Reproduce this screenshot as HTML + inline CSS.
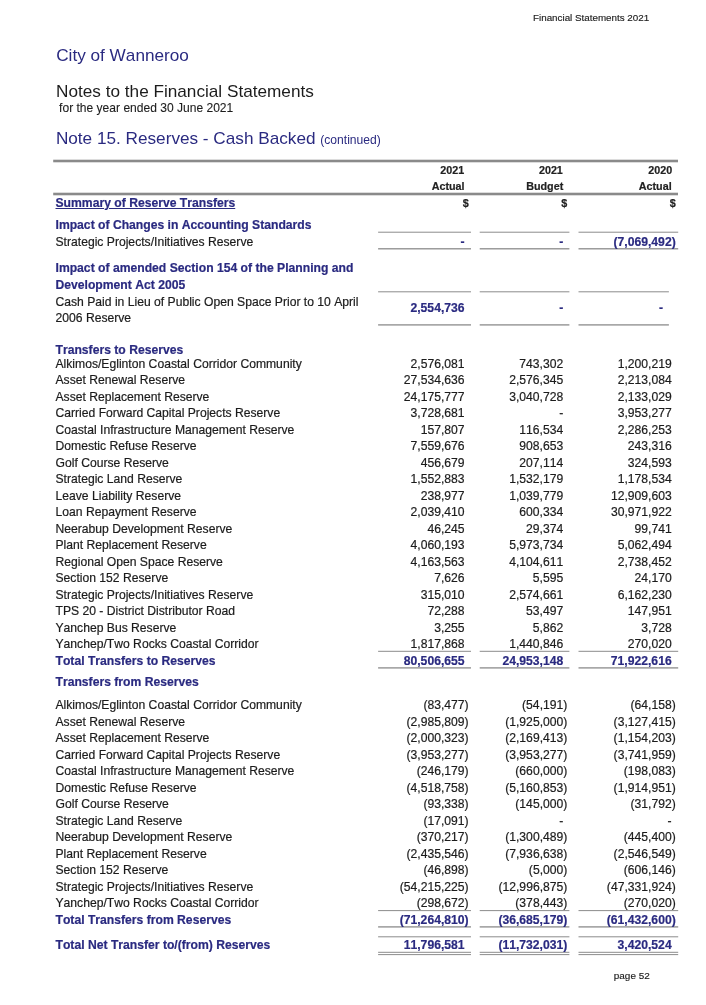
<!DOCTYPE html>
<html><head><meta charset="utf-8"><title>Financial Statements 2021</title>
<style>
html,body{margin:0;padding:0;background:#fff;}
body{width:706px;height:1005px;position:relative;overflow:hidden;font-family:"Liberation Sans",sans-serif;}
.t{position:absolute;white-space:nowrap;font-kerning:none;font-feature-settings:"kern" 0,"liga" 0;margin:0;padding:0;-webkit-text-stroke:0.2px currentColor;}
.l{position:absolute;}
#w{position:absolute;left:0;top:0;width:706px;height:1005px;will-change:transform;}
</style></head><body>
<svg class="l" style="left:0;top:0" width="706" height="1005" viewBox="0 0 706 1005">
<rect x="53.20" y="159.70" width="624.80" height="2.6" fill="#8a8a8a"/>
<rect x="53.20" y="192.70" width="624.80" height="2.6" fill="#8a8a8a"/>
<rect x="378.10" y="231.70" width="92.90" height="1.0" fill="#8c8c8c"/>
<rect x="378.10" y="248.15" width="92.90" height="1.3" fill="#8c8c8c"/>
<rect x="479.70" y="231.70" width="89.70" height="1.0" fill="#8c8c8c"/>
<rect x="479.70" y="248.15" width="89.70" height="1.3" fill="#8c8c8c"/>
<rect x="578.50" y="231.70" width="99.70" height="1.0" fill="#8c8c8c"/>
<rect x="578.50" y="248.15" width="99.70" height="1.3" fill="#8c8c8c"/>
<rect x="378.10" y="291.30" width="92.90" height="1.0" fill="#8c8c8c"/>
<rect x="378.10" y="324.25" width="92.90" height="1.3" fill="#8c8c8c"/>
<rect x="479.70" y="291.30" width="89.70" height="1.0" fill="#8c8c8c"/>
<rect x="479.70" y="324.25" width="89.70" height="1.3" fill="#8c8c8c"/>
<rect x="578.50" y="291.30" width="90.40" height="1.0" fill="#8c8c8c"/>
<rect x="578.50" y="324.25" width="90.40" height="1.3" fill="#8c8c8c"/>
<rect x="378.10" y="650.80" width="92.90" height="1.0" fill="#8c8c8c"/>
<rect x="378.10" y="667.25" width="92.90" height="1.3" fill="#8c8c8c"/>
<rect x="479.70" y="650.80" width="89.70" height="1.0" fill="#8c8c8c"/>
<rect x="479.70" y="667.25" width="89.70" height="1.3" fill="#8c8c8c"/>
<rect x="578.50" y="650.80" width="99.70" height="1.0" fill="#8c8c8c"/>
<rect x="578.50" y="667.25" width="99.70" height="1.3" fill="#8c8c8c"/>
<rect x="378.10" y="910.10" width="92.90" height="1.0" fill="#8c8c8c"/>
<rect x="378.10" y="926.25" width="92.90" height="1.3" fill="#8c8c8c"/>
<rect x="479.70" y="910.10" width="89.70" height="1.0" fill="#8c8c8c"/>
<rect x="479.70" y="926.25" width="89.70" height="1.3" fill="#8c8c8c"/>
<rect x="578.50" y="910.10" width="99.70" height="1.0" fill="#8c8c8c"/>
<rect x="578.50" y="926.25" width="99.70" height="1.3" fill="#8c8c8c"/>
<rect x="378.10" y="936.30" width="92.90" height="1.0" fill="#8c8c8c"/>
<rect x="378.10" y="951.80" width="92.90" height="1.0" fill="#8c8c8c"/>
<rect x="378.10" y="954.10" width="92.90" height="1.0" fill="#8c8c8c"/>
<rect x="479.70" y="936.30" width="89.70" height="1.0" fill="#8c8c8c"/>
<rect x="479.70" y="951.80" width="89.70" height="1.0" fill="#8c8c8c"/>
<rect x="479.70" y="954.10" width="89.70" height="1.0" fill="#8c8c8c"/>
<rect x="578.50" y="936.30" width="99.70" height="1.0" fill="#8c8c8c"/>
<rect x="578.50" y="951.80" width="99.70" height="1.0" fill="#8c8c8c"/>
<rect x="578.50" y="954.10" width="99.70" height="1.0" fill="#8c8c8c"/>
</svg>
<div id="w">
<div class="t" id="t0" style="top:10px;font-size:9.82px;line-height:16px;color:#1c1c1c;left:533.00px;-webkit-text-stroke-width:0.15px;">Financial Statements 2021</div>
<div class="t" id="t1" style="top:47px;font-size:17.18px;line-height:16px;color:#2a2a80;left:56.20px;-webkit-text-stroke-width:0;">City of Wanneroo</div>
<div class="t" id="t2" style="top:83px;font-size:17.18px;line-height:16px;color:#1c1c1c;left:56.10px;-webkit-text-stroke-width:0;">Notes to the Financial Statements</div>
<div class="t" id="t3" style="top:100px;font-size:12.05px;line-height:16px;color:#1c1c1c;left:59.10px;-webkit-text-stroke-width:0.1px;">for the year ended 30 June 2021</div>
<div class="t" id="t4" style="top:130px;font-size:17.18px;line-height:16px;color:#2a2a80;left:55.90px;-webkit-text-stroke-width:0;">Note 15. Reserves - Cash Backed <span style="font-size:12.1px">(continued)</span></div>
<div class="t" id="t5" style="top:162px;font-size:10.75px;line-height:16px;color:#222;font-weight:bold;right:241.85px;">2021</div>
<div class="t" id="t6" style="top:178px;font-size:10.75px;line-height:16px;color:#222;font-weight:bold;right:241.45px;">Actual</div>
<div class="t" id="t7" style="top:195px;font-size:10.75px;line-height:16px;color:#222;font-weight:bold;right:237.40px;">$</div>
<div class="t" id="t8" style="top:162px;font-size:10.75px;line-height:16px;color:#222;font-weight:bold;right:143.15px;">2021</div>
<div class="t" id="t9" style="top:178px;font-size:10.75px;line-height:16px;color:#222;font-weight:bold;right:142.75px;">Budget</div>
<div class="t" id="t10" style="top:195px;font-size:10.75px;line-height:16px;color:#222;font-weight:bold;right:138.70px;">$</div>
<div class="t" id="t11" style="top:162px;font-size:10.75px;line-height:16px;color:#222;font-weight:bold;right:33.85px;">2020</div>
<div class="t" id="t12" style="top:178px;font-size:10.75px;line-height:16px;color:#222;font-weight:bold;right:34.35px;">Actual</div>
<div class="t" id="t13" style="top:195px;font-size:10.75px;line-height:16px;color:#222;font-weight:bold;right:30.30px;">$</div>
<div class="t" id="t14" style="top:195px;font-size:12.17px;line-height:16px;color:#2a2a80;font-weight:bold;left:55.50px;text-decoration:underline;text-underline-offset:1.2px;text-decoration-thickness:1.1px;">Summary of Reserve Transfers</div>
<div class="t" id="t15" style="top:217px;font-size:12.17px;line-height:16px;color:#2a2a80;font-weight:bold;left:55.50px;">Impact of Changes in Accounting Standards</div>
<div class="t" id="t16" style="top:234px;font-size:12.15px;line-height:16px;color:#1c1c1c;left:55.50px;">Strategic Projects/Initiatives Reserve</div>
<div class="t" id="t17" style="top:234px;font-size:12.17px;line-height:16px;color:#2a2a80;font-weight:bold;right:241.45px;">-</div>
<div class="t" id="t18" style="top:234px;font-size:12.17px;line-height:16px;color:#2a2a80;font-weight:bold;right:142.75px;">-</div>
<div class="t" id="t19" style="top:234px;font-size:12.17px;line-height:16px;color:#2a2a80;font-weight:bold;right:30.30px;">(7,069,492)</div>
<div class="t" id="t20" style="top:260px;font-size:12.17px;line-height:16px;color:#2a2a80;font-weight:bold;left:55.50px;">Impact of amended Section 154 of the Planning and</div>
<div class="t" id="t21" style="top:277px;font-size:12.17px;line-height:16px;color:#2a2a80;font-weight:bold;left:55.50px;">Development Act 2005</div>
<div class="t" id="t22" style="top:294px;font-size:12.15px;line-height:16px;color:#1c1c1c;left:55.50px;">Cash Paid in Lieu of Public Open Space Prior to 10 April</div>
<div class="t" id="t23" style="top:310px;font-size:12.15px;line-height:16px;color:#1c1c1c;left:55.50px;">2006 Reserve</div>
<div class="t" id="t24" style="top:300px;font-size:12.17px;line-height:16px;color:#2a2a80;font-weight:bold;right:241.45px;">2,554,736</div>
<div class="t" id="t25" style="top:300px;font-size:12.17px;line-height:16px;color:#2a2a80;font-weight:bold;right:142.75px;">-</div>
<div class="t" id="t26" style="top:300px;font-size:12.17px;line-height:16px;color:#2a2a80;font-weight:bold;right:43.05px;">-</div>
<div class="t" id="t27" style="top:342px;font-size:12.17px;line-height:16px;color:#2a2a80;font-weight:bold;left:55.50px;">Transfers to Reserves</div>
<div class="t" id="t28" style="top:356px;font-size:12.15px;line-height:16px;color:#1c1c1c;left:55.50px;">Alkimos/Eglinton Coastal Corridor Community</div>
<div class="t" id="t29" style="top:356px;font-size:12.15px;line-height:16px;color:#1c1c1c;right:241.45px;">2,576,081</div>
<div class="t" id="t30" style="top:356px;font-size:12.15px;line-height:16px;color:#1c1c1c;right:142.75px;">743,302</div>
<div class="t" id="t31" style="top:356px;font-size:12.15px;line-height:16px;color:#1c1c1c;right:34.35px;">1,200,219</div>
<div class="t" id="t32" style="top:372px;font-size:12.15px;line-height:16px;color:#1c1c1c;left:55.50px;">Asset Renewal Reserve</div>
<div class="t" id="t33" style="top:372px;font-size:12.15px;line-height:16px;color:#1c1c1c;right:241.45px;">27,534,636</div>
<div class="t" id="t34" style="top:372px;font-size:12.15px;line-height:16px;color:#1c1c1c;right:142.75px;">2,576,345</div>
<div class="t" id="t35" style="top:372px;font-size:12.15px;line-height:16px;color:#1c1c1c;right:34.35px;">2,213,084</div>
<div class="t" id="t36" style="top:389px;font-size:12.15px;line-height:16px;color:#1c1c1c;left:55.50px;">Asset Replacement Reserve</div>
<div class="t" id="t37" style="top:389px;font-size:12.15px;line-height:16px;color:#1c1c1c;right:241.45px;">24,175,777</div>
<div class="t" id="t38" style="top:389px;font-size:12.15px;line-height:16px;color:#1c1c1c;right:142.75px;">3,040,728</div>
<div class="t" id="t39" style="top:389px;font-size:12.15px;line-height:16px;color:#1c1c1c;right:34.35px;">2,133,029</div>
<div class="t" id="t40" style="top:405px;font-size:12.15px;line-height:16px;color:#1c1c1c;left:55.50px;">Carried Forward Capital Projects Reserve</div>
<div class="t" id="t41" style="top:405px;font-size:12.15px;line-height:16px;color:#1c1c1c;right:241.45px;">3,728,681</div>
<div class="t" id="t42" style="top:405px;font-size:12.15px;line-height:16px;color:#1c1c1c;right:142.75px;">-</div>
<div class="t" id="t43" style="top:405px;font-size:12.15px;line-height:16px;color:#1c1c1c;right:34.35px;">3,953,277</div>
<div class="t" id="t44" style="top:422px;font-size:12.15px;line-height:16px;color:#1c1c1c;left:55.50px;">Coastal Infrastructure Management Reserve</div>
<div class="t" id="t45" style="top:422px;font-size:12.15px;line-height:16px;color:#1c1c1c;right:241.45px;">157,807</div>
<div class="t" id="t46" style="top:422px;font-size:12.15px;line-height:16px;color:#1c1c1c;right:142.75px;">116,534</div>
<div class="t" id="t47" style="top:422px;font-size:12.15px;line-height:16px;color:#1c1c1c;right:34.35px;">2,286,253</div>
<div class="t" id="t48" style="top:438px;font-size:12.15px;line-height:16px;color:#1c1c1c;left:55.50px;">Domestic Refuse Reserve</div>
<div class="t" id="t49" style="top:438px;font-size:12.15px;line-height:16px;color:#1c1c1c;right:241.45px;">7,559,676</div>
<div class="t" id="t50" style="top:438px;font-size:12.15px;line-height:16px;color:#1c1c1c;right:142.75px;">908,653</div>
<div class="t" id="t51" style="top:438px;font-size:12.15px;line-height:16px;color:#1c1c1c;right:34.35px;">243,316</div>
<div class="t" id="t52" style="top:455px;font-size:12.15px;line-height:16px;color:#1c1c1c;left:55.50px;">Golf Course Reserve</div>
<div class="t" id="t53" style="top:455px;font-size:12.15px;line-height:16px;color:#1c1c1c;right:241.45px;">456,679</div>
<div class="t" id="t54" style="top:455px;font-size:12.15px;line-height:16px;color:#1c1c1c;right:142.75px;">207,114</div>
<div class="t" id="t55" style="top:455px;font-size:12.15px;line-height:16px;color:#1c1c1c;right:34.35px;">324,593</div>
<div class="t" id="t56" style="top:471px;font-size:12.15px;line-height:16px;color:#1c1c1c;left:55.50px;">Strategic Land Reserve</div>
<div class="t" id="t57" style="top:471px;font-size:12.15px;line-height:16px;color:#1c1c1c;right:241.45px;">1,552,883</div>
<div class="t" id="t58" style="top:471px;font-size:12.15px;line-height:16px;color:#1c1c1c;right:142.75px;">1,532,179</div>
<div class="t" id="t59" style="top:471px;font-size:12.15px;line-height:16px;color:#1c1c1c;right:34.35px;">1,178,534</div>
<div class="t" id="t60" style="top:488px;font-size:12.15px;line-height:16px;color:#1c1c1c;left:55.50px;">Leave Liability Reserve</div>
<div class="t" id="t61" style="top:488px;font-size:12.15px;line-height:16px;color:#1c1c1c;right:241.45px;">238,977</div>
<div class="t" id="t62" style="top:488px;font-size:12.15px;line-height:16px;color:#1c1c1c;right:142.75px;">1,039,779</div>
<div class="t" id="t63" style="top:488px;font-size:12.15px;line-height:16px;color:#1c1c1c;right:34.35px;">12,909,603</div>
<div class="t" id="t64" style="top:504px;font-size:12.15px;line-height:16px;color:#1c1c1c;left:55.50px;">Loan Repayment Reserve</div>
<div class="t" id="t65" style="top:504px;font-size:12.15px;line-height:16px;color:#1c1c1c;right:241.45px;">2,039,410</div>
<div class="t" id="t66" style="top:504px;font-size:12.15px;line-height:16px;color:#1c1c1c;right:142.75px;">600,334</div>
<div class="t" id="t67" style="top:504px;font-size:12.15px;line-height:16px;color:#1c1c1c;right:34.35px;">30,971,922</div>
<div class="t" id="t68" style="top:521px;font-size:12.15px;line-height:16px;color:#1c1c1c;left:55.50px;">Neerabup Development Reserve</div>
<div class="t" id="t69" style="top:521px;font-size:12.15px;line-height:16px;color:#1c1c1c;right:241.45px;">46,245</div>
<div class="t" id="t70" style="top:521px;font-size:12.15px;line-height:16px;color:#1c1c1c;right:142.75px;">29,374</div>
<div class="t" id="t71" style="top:521px;font-size:12.15px;line-height:16px;color:#1c1c1c;right:34.35px;">99,741</div>
<div class="t" id="t72" style="top:537px;font-size:12.15px;line-height:16px;color:#1c1c1c;left:55.50px;">Plant Replacement Reserve</div>
<div class="t" id="t73" style="top:537px;font-size:12.15px;line-height:16px;color:#1c1c1c;right:241.45px;">4,060,193</div>
<div class="t" id="t74" style="top:537px;font-size:12.15px;line-height:16px;color:#1c1c1c;right:142.75px;">5,973,734</div>
<div class="t" id="t75" style="top:537px;font-size:12.15px;line-height:16px;color:#1c1c1c;right:34.35px;">5,062,494</div>
<div class="t" id="t76" style="top:554px;font-size:12.15px;line-height:16px;color:#1c1c1c;left:55.50px;">Regional Open Space Reserve</div>
<div class="t" id="t77" style="top:554px;font-size:12.15px;line-height:16px;color:#1c1c1c;right:241.45px;">4,163,563</div>
<div class="t" id="t78" style="top:554px;font-size:12.15px;line-height:16px;color:#1c1c1c;right:142.75px;">4,104,611</div>
<div class="t" id="t79" style="top:554px;font-size:12.15px;line-height:16px;color:#1c1c1c;right:34.35px;">2,738,452</div>
<div class="t" id="t80" style="top:570px;font-size:12.15px;line-height:16px;color:#1c1c1c;left:55.50px;">Section 152 Reserve</div>
<div class="t" id="t81" style="top:570px;font-size:12.15px;line-height:16px;color:#1c1c1c;right:241.45px;">7,626</div>
<div class="t" id="t82" style="top:570px;font-size:12.15px;line-height:16px;color:#1c1c1c;right:142.75px;">5,595</div>
<div class="t" id="t83" style="top:570px;font-size:12.15px;line-height:16px;color:#1c1c1c;right:34.35px;">24,170</div>
<div class="t" id="t84" style="top:587px;font-size:12.15px;line-height:16px;color:#1c1c1c;left:55.50px;">Strategic Projects/Initiatives Reserve</div>
<div class="t" id="t85" style="top:587px;font-size:12.15px;line-height:16px;color:#1c1c1c;right:241.45px;">315,010</div>
<div class="t" id="t86" style="top:587px;font-size:12.15px;line-height:16px;color:#1c1c1c;right:142.75px;">2,574,661</div>
<div class="t" id="t87" style="top:587px;font-size:12.15px;line-height:16px;color:#1c1c1c;right:34.35px;">6,162,230</div>
<div class="t" id="t88" style="top:603px;font-size:12.15px;line-height:16px;color:#1c1c1c;left:55.50px;">TPS 20 - District Distributor Road</div>
<div class="t" id="t89" style="top:603px;font-size:12.15px;line-height:16px;color:#1c1c1c;right:241.45px;">72,288</div>
<div class="t" id="t90" style="top:603px;font-size:12.15px;line-height:16px;color:#1c1c1c;right:142.75px;">53,497</div>
<div class="t" id="t91" style="top:603px;font-size:12.15px;line-height:16px;color:#1c1c1c;right:34.35px;">147,951</div>
<div class="t" id="t92" style="top:620px;font-size:12.15px;line-height:16px;color:#1c1c1c;left:55.50px;">Yanchep Bus Reserve</div>
<div class="t" id="t93" style="top:620px;font-size:12.15px;line-height:16px;color:#1c1c1c;right:241.45px;">3,255</div>
<div class="t" id="t94" style="top:620px;font-size:12.15px;line-height:16px;color:#1c1c1c;right:142.75px;">5,862</div>
<div class="t" id="t95" style="top:620px;font-size:12.15px;line-height:16px;color:#1c1c1c;right:34.35px;">3,728</div>
<div class="t" id="t96" style="top:636px;font-size:12.15px;line-height:16px;color:#1c1c1c;left:55.50px;">Yanchep/Two Rocks Coastal Corridor</div>
<div class="t" id="t97" style="top:636px;font-size:12.15px;line-height:16px;color:#1c1c1c;right:241.45px;">1,817,868</div>
<div class="t" id="t98" style="top:636px;font-size:12.15px;line-height:16px;color:#1c1c1c;right:142.75px;">1,440,846</div>
<div class="t" id="t99" style="top:636px;font-size:12.15px;line-height:16px;color:#1c1c1c;right:34.35px;">270,020</div>
<div class="t" id="t100" style="top:653px;font-size:12.17px;line-height:16px;color:#2a2a80;font-weight:bold;left:55.50px;">Total Transfers to Reserves</div>
<div class="t" id="t101" style="top:653px;font-size:12.17px;line-height:16px;color:#2a2a80;font-weight:bold;right:241.45px;">80,506,655</div>
<div class="t" id="t102" style="top:653px;font-size:12.17px;line-height:16px;color:#2a2a80;font-weight:bold;right:142.75px;">24,953,148</div>
<div class="t" id="t103" style="top:653px;font-size:12.17px;line-height:16px;color:#2a2a80;font-weight:bold;right:34.35px;">71,922,616</div>
<div class="t" id="t104" style="top:674px;font-size:12.17px;line-height:16px;color:#2a2a80;font-weight:bold;left:55.50px;">Transfers from Reserves</div>
<div class="t" id="t105" style="top:697px;font-size:12.15px;line-height:16px;color:#1c1c1c;left:55.50px;">Alkimos/Eglinton Coastal Corridor Community</div>
<div class="t" id="t106" style="top:697px;font-size:12.15px;line-height:16px;color:#1c1c1c;right:237.40px;">(83,477)</div>
<div class="t" id="t107" style="top:697px;font-size:12.15px;line-height:16px;color:#1c1c1c;right:138.70px;">(54,191)</div>
<div class="t" id="t108" style="top:697px;font-size:12.15px;line-height:16px;color:#1c1c1c;right:30.30px;">(64,158)</div>
<div class="t" id="t109" style="top:714px;font-size:12.15px;line-height:16px;color:#1c1c1c;left:55.50px;">Asset Renewal Reserve</div>
<div class="t" id="t110" style="top:714px;font-size:12.15px;line-height:16px;color:#1c1c1c;right:237.40px;">(2,985,809)</div>
<div class="t" id="t111" style="top:714px;font-size:12.15px;line-height:16px;color:#1c1c1c;right:138.70px;">(1,925,000)</div>
<div class="t" id="t112" style="top:714px;font-size:12.15px;line-height:16px;color:#1c1c1c;right:30.30px;">(3,127,415)</div>
<div class="t" id="t113" style="top:730px;font-size:12.15px;line-height:16px;color:#1c1c1c;left:55.50px;">Asset Replacement Reserve</div>
<div class="t" id="t114" style="top:730px;font-size:12.15px;line-height:16px;color:#1c1c1c;right:237.40px;">(2,000,323)</div>
<div class="t" id="t115" style="top:730px;font-size:12.15px;line-height:16px;color:#1c1c1c;right:138.70px;">(2,169,413)</div>
<div class="t" id="t116" style="top:730px;font-size:12.15px;line-height:16px;color:#1c1c1c;right:30.30px;">(1,154,203)</div>
<div class="t" id="t117" style="top:747px;font-size:12.15px;line-height:16px;color:#1c1c1c;left:55.50px;">Carried Forward Capital Projects Reserve</div>
<div class="t" id="t118" style="top:747px;font-size:12.15px;line-height:16px;color:#1c1c1c;right:237.40px;">(3,953,277)</div>
<div class="t" id="t119" style="top:747px;font-size:12.15px;line-height:16px;color:#1c1c1c;right:138.70px;">(3,953,277)</div>
<div class="t" id="t120" style="top:747px;font-size:12.15px;line-height:16px;color:#1c1c1c;right:30.30px;">(3,741,959)</div>
<div class="t" id="t121" style="top:763px;font-size:12.15px;line-height:16px;color:#1c1c1c;left:55.50px;">Coastal Infrastructure Management Reserve</div>
<div class="t" id="t122" style="top:763px;font-size:12.15px;line-height:16px;color:#1c1c1c;right:237.40px;">(246,179)</div>
<div class="t" id="t123" style="top:763px;font-size:12.15px;line-height:16px;color:#1c1c1c;right:138.70px;">(660,000)</div>
<div class="t" id="t124" style="top:763px;font-size:12.15px;line-height:16px;color:#1c1c1c;right:30.30px;">(198,083)</div>
<div class="t" id="t125" style="top:780px;font-size:12.15px;line-height:16px;color:#1c1c1c;left:55.50px;">Domestic Refuse Reserve</div>
<div class="t" id="t126" style="top:780px;font-size:12.15px;line-height:16px;color:#1c1c1c;right:237.40px;">(4,518,758)</div>
<div class="t" id="t127" style="top:780px;font-size:12.15px;line-height:16px;color:#1c1c1c;right:138.70px;">(5,160,853)</div>
<div class="t" id="t128" style="top:780px;font-size:12.15px;line-height:16px;color:#1c1c1c;right:30.30px;">(1,914,951)</div>
<div class="t" id="t129" style="top:796px;font-size:12.15px;line-height:16px;color:#1c1c1c;left:55.50px;">Golf Course Reserve</div>
<div class="t" id="t130" style="top:796px;font-size:12.15px;line-height:16px;color:#1c1c1c;right:237.40px;">(93,338)</div>
<div class="t" id="t131" style="top:796px;font-size:12.15px;line-height:16px;color:#1c1c1c;right:138.70px;">(145,000)</div>
<div class="t" id="t132" style="top:796px;font-size:12.15px;line-height:16px;color:#1c1c1c;right:30.30px;">(31,792)</div>
<div class="t" id="t133" style="top:813px;font-size:12.15px;line-height:16px;color:#1c1c1c;left:55.50px;">Strategic Land Reserve</div>
<div class="t" id="t134" style="top:813px;font-size:12.15px;line-height:16px;color:#1c1c1c;right:237.40px;">(17,091)</div>
<div class="t" id="t135" style="top:813px;font-size:12.15px;line-height:16px;color:#1c1c1c;right:142.75px;">-</div>
<div class="t" id="t136" style="top:813px;font-size:12.15px;line-height:16px;color:#1c1c1c;right:34.35px;">-</div>
<div class="t" id="t137" style="top:829px;font-size:12.15px;line-height:16px;color:#1c1c1c;left:55.50px;">Neerabup Development Reserve</div>
<div class="t" id="t138" style="top:829px;font-size:12.15px;line-height:16px;color:#1c1c1c;right:237.40px;">(370,217)</div>
<div class="t" id="t139" style="top:829px;font-size:12.15px;line-height:16px;color:#1c1c1c;right:138.70px;">(1,300,489)</div>
<div class="t" id="t140" style="top:829px;font-size:12.15px;line-height:16px;color:#1c1c1c;right:30.30px;">(445,400)</div>
<div class="t" id="t141" style="top:846px;font-size:12.15px;line-height:16px;color:#1c1c1c;left:55.50px;">Plant Replacement Reserve</div>
<div class="t" id="t142" style="top:846px;font-size:12.15px;line-height:16px;color:#1c1c1c;right:237.40px;">(2,435,546)</div>
<div class="t" id="t143" style="top:846px;font-size:12.15px;line-height:16px;color:#1c1c1c;right:138.70px;">(7,936,638)</div>
<div class="t" id="t144" style="top:846px;font-size:12.15px;line-height:16px;color:#1c1c1c;right:30.30px;">(2,546,549)</div>
<div class="t" id="t145" style="top:862px;font-size:12.15px;line-height:16px;color:#1c1c1c;left:55.50px;">Section 152 Reserve</div>
<div class="t" id="t146" style="top:862px;font-size:12.15px;line-height:16px;color:#1c1c1c;right:237.40px;">(46,898)</div>
<div class="t" id="t147" style="top:862px;font-size:12.15px;line-height:16px;color:#1c1c1c;right:138.70px;">(5,000)</div>
<div class="t" id="t148" style="top:862px;font-size:12.15px;line-height:16px;color:#1c1c1c;right:30.30px;">(606,146)</div>
<div class="t" id="t149" style="top:879px;font-size:12.15px;line-height:16px;color:#1c1c1c;left:55.50px;">Strategic Projects/Initiatives Reserve</div>
<div class="t" id="t150" style="top:879px;font-size:12.15px;line-height:16px;color:#1c1c1c;right:237.40px;">(54,215,225)</div>
<div class="t" id="t151" style="top:879px;font-size:12.15px;line-height:16px;color:#1c1c1c;right:138.70px;">(12,996,875)</div>
<div class="t" id="t152" style="top:879px;font-size:12.15px;line-height:16px;color:#1c1c1c;right:30.30px;">(47,331,924)</div>
<div class="t" id="t153" style="top:895px;font-size:12.15px;line-height:16px;color:#1c1c1c;left:55.50px;">Yanchep/Two Rocks Coastal Corridor</div>
<div class="t" id="t154" style="top:895px;font-size:12.15px;line-height:16px;color:#1c1c1c;right:237.40px;">(298,672)</div>
<div class="t" id="t155" style="top:895px;font-size:12.15px;line-height:16px;color:#1c1c1c;right:138.70px;">(378,443)</div>
<div class="t" id="t156" style="top:895px;font-size:12.15px;line-height:16px;color:#1c1c1c;right:30.30px;">(270,020)</div>
<div class="t" id="t157" style="top:912px;font-size:12.17px;line-height:16px;color:#2a2a80;font-weight:bold;left:55.50px;">Total Transfers from Reserves</div>
<div class="t" id="t158" style="top:912px;font-size:12.17px;line-height:16px;color:#2a2a80;font-weight:bold;right:237.40px;">(71,264,810)</div>
<div class="t" id="t159" style="top:912px;font-size:12.17px;line-height:16px;color:#2a2a80;font-weight:bold;right:138.70px;">(36,685,179)</div>
<div class="t" id="t160" style="top:912px;font-size:12.17px;line-height:16px;color:#2a2a80;font-weight:bold;right:30.30px;">(61,432,600)</div>
<div class="t" id="t161" style="top:937px;font-size:12.17px;line-height:16px;color:#2a2a80;font-weight:bold;left:55.50px;">Total Net Transfer to/(from) Reserves</div>
<div class="t" id="t162" style="top:937px;font-size:12.17px;line-height:16px;color:#2a2a80;font-weight:bold;right:241.45px;">11,796,581</div>
<div class="t" id="t163" style="top:937px;font-size:12.17px;line-height:16px;color:#2a2a80;font-weight:bold;right:138.70px;">(11,732,031)</div>
<div class="t" id="t164" style="top:937px;font-size:12.17px;line-height:16px;color:#2a2a80;font-weight:bold;right:34.35px;">3,420,524</div>
<div class="t" id="t165" style="top:968px;font-size:9.95px;line-height:16px;color:#1c1c1c;left:613.80px;-webkit-text-stroke-width:0.15px;">page 52</div>
</div>
</body></html>
